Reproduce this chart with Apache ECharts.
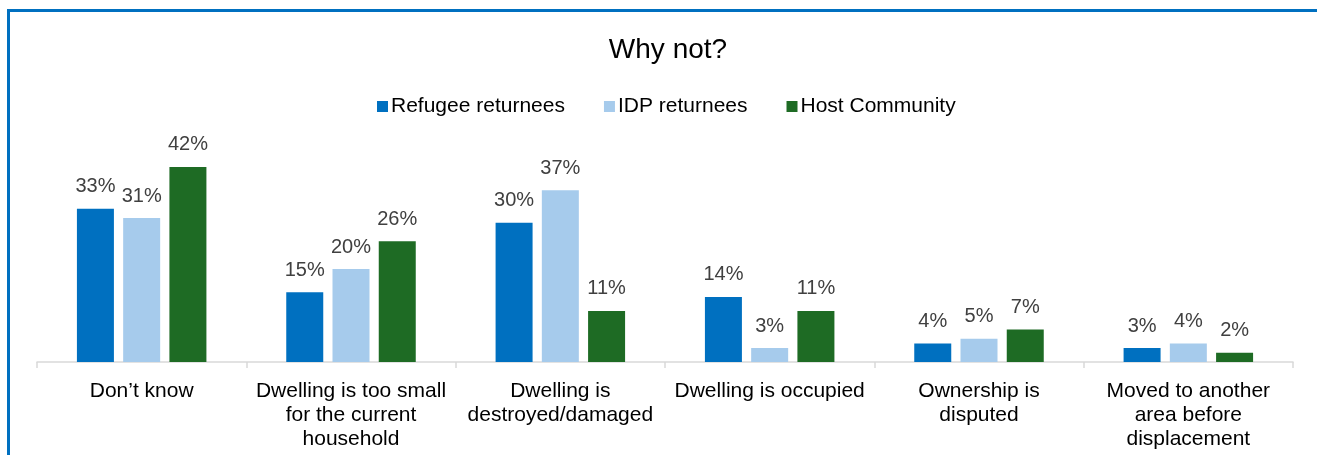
<!DOCTYPE html>
<html>
<head>
<meta charset="utf-8">
<script src="https://cdn.jsdelivr.net/npm/echarts@6/dist/echarts.min.js"></script>
<style>
	html, body { margin: 0; padding: 0; background: #fff; overflow: hidden; }
	#chart { width: 1317px; height: 455px; }
	.frame {
		position: absolute; left: 7px; top: 9px; width: 1400px; height: 600px;
		border: 3px solid #0070C0; pointer-events: none;
	}
</style>
</head>
<body>
<div id="chart"></div>
<div class="frame"></div>
<script>
const categories = [
	'Don\u2019t know',
	'Dwelling is too small\nfor the current\nhousehold',
	'Dwelling is\ndestroyed/damaged',
	'Dwelling is occupied',
	'Ownership is\ndisputed',
	'Moved to another\narea before\ndisplacement'
];
const refugeeReturnees = [33, 15, 30, 14, 4, 3];
const idpReturnees = [31, 20, 37, 3, 5, 4];
const hostCommunity = [42, 26, 11, 11, 7, 2];

const myChart = echarts.init(document.getElementById('chart'));

const label = {
	show: true,
	position: 'top',
	distance: 12,
	formatter: '{c}%',
	fontFamily: 'Arial, Liberation Sans',
	fontSize: 20,
	color: '#404040'
};

const option = {
	animation: false,
	textStyle: { fontFamily: 'Arial, Liberation Sans' },
	title: {
		text: 'Why not?',
		left: 663,
		textAlign: 'center',
		top: 31,
		textStyle: { fontSize: 28, fontWeight: 'normal', color: '#000' }
	},
	legend: {
		data: ['Refugee returnees', 'IDP returnees', 'Host Community'],
		left: 372,
		top: 91,
		icon: 'rect',
		itemWidth: 11,
		itemHeight: 11,
		itemGap: 39,
		textStyle: { fontSize: 21, color: '#000', padding: [0, 0, 0, -2] }
	},
	grid: {
		left: 37,
		right: 24,
		top: 153,
		bottom: 93
	},
	xAxis: {
		type: 'category',
		data: categories,
		axisLine: { lineStyle: { color: '#d9d9d9', width: 1.5 } },
		axisTick: { show: true, length: 6, lineStyle: { color: '#d9d9d9', width: 1.5 } },
		axisLabel: {
			interval: 0,
			fontSize: 21,
			color: '#000',
			lineHeight: 24,
			margin: 17
		}
	},
	yAxis: {
		type: 'value',
		min: 0,
		max: 45,
		show: false,
		splitLine: { show: false }
	},
	series: [
		{
			name: 'Refugee returnees',
			type: 'bar',
			data: refugeeReturnees,
			barWidth: 37,
			barGap: '25%',
			itemStyle: { color: '#0070C0' },
			label: label
		},
		{
			name: 'IDP returnees',
			type: 'bar',
			data: idpReturnees,
			barWidth: 37,
			barGap: '25%',
			itemStyle: { color: '#A6CBEC' },
			label: label
		},
		{
			name: 'Host Community',
			type: 'bar',
			data: hostCommunity,
			barWidth: 37,
			barGap: '25%',
			itemStyle: { color: '#1E6B24' },
			label: label
		}
	]
};

myChart.setOption(option);
</script>
</body>
</html>
